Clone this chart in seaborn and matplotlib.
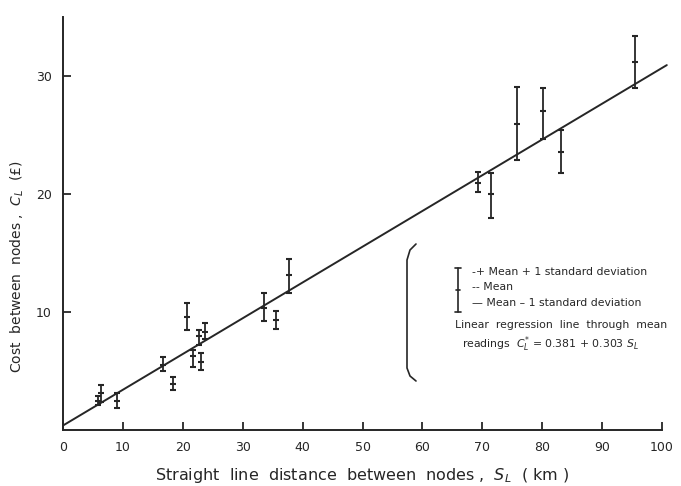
import numpy as np
import pandas as pd
import seaborn as sns
import matplotlib.pyplot as plt
from matplotlib.lines import Line2D

sns.set_style("ticks")
plt.rcParams['font.family'] = ['DejaVu Sans']

# readings
dist = [5.8, 6.3, 9.0, 16.7, 18.4, 20.7, 21.7, 22.7, 23.0, 23.7,
        33.5, 35.5, 37.8, 69.3, 71.5, 75.8, 80.2, 83.2, 95.5]
mean_cost = [2.5, 3.1, 2.5, 5.5, 3.9, 9.6, 6.3, 8.0, 5.8, 8.3,
             10.3, 9.3, 13.1, 20.9, 20.0, 25.9, 27.0, 23.6, 31.2]
upper = [2.9, 3.8, 3.1, 6.2, 4.5, 10.8, 6.8, 8.5, 6.5, 9.1,
         11.6, 10.1, 14.5, 21.9, 21.8, 29.1, 29.0, 25.4, 33.4]
lower = [2.1, 2.4, 1.9, 5.0, 3.4, 8.5, 5.3, 7.2, 5.1, 7.7,
         9.2, 8.6, 11.6, 20.2, 18.0, 22.9, 24.7, 21.8, 29.0]

intercept, slope = 0.381, 0.303
x_ticks = [0, 10, 20, 30, 40, 50, 60, 70, 80, 90, 100]
y_ticks = [10, 20, 30]

df = pd.DataFrame({"dist": dist, "mean": mean_cost, "upper": upper, "lower": lower})
ink = "#262626"

fig = plt.figure(figsize=(6.81, 4.86), dpi=100)
ax = fig.add_axes([63 / 681, 1 - 430 / 486, (662 - 63) / 681, (430 - 17) / 486])

# error bars (mean +/- 1 sd)
ax.errorbar(df["dist"], df["mean"],
            yerr=[df["mean"] - df["lower"], df["upper"] - df["mean"]],
            fmt="_", color=ink, ecolor=ink, elinewidth=1.3, capsize=2.5,
            capthick=1.3, markersize=5, mew=1.5)

# regression line through the means
reg = pd.DataFrame({"x": [0, 100.8]})
reg["y"] = intercept + slope * reg["x"]
sns.lineplot(data=reg, x="x", y="y", ax=ax, color=ink, lw=1.4)
ax.lines[-1].set_clip_on(False)

ax.set_xlim(0, 100)
ax.set_ylim(0, 35)
ax.set_xticks(x_ticks)
ax.set_yticks(y_ticks)
ax.tick_params(direction="in", length=6, width=1.3, colors=ink, labelsize=9, pad=8)
for s in ["top", "right"]:
    ax.spines[s].set_visible(False)
for s in ["left", "bottom"]:
    ax.spines[s].set_linewidth(1.4)
    ax.spines[s].set_color(ink)

ax.set_xlabel(r"Straight  line  distance  between  nodes ,  $S_L$  ( km )",
              fontsize=11.5, color=ink)
ax.xaxis.set_label_coords(0.5, -(466 - 430) / 413)
ax.set_ylabel(r"Cost  between  nodes ,  $C_L$  (£)", fontsize=10, color=ink)
ax.yaxis.set_label_coords(-(63 - 26) / 599, (430 - 267) / 413)


def fp(x, y):
    return x / 681, 1 - y / 486


# legend bracket
bx = [416, 410, 407, 407, 410, 416]
by = [244, 250, 260, 368, 376, 381]
fig.add_artist(Line2D([fp(a, b)[0] for a, b in zip(bx, by)],
                      [fp(a, b)[1] for a, b in zip(bx, by)],
                      color=ink, lw=1.2))

# legend error bar symbol
fig.add_artist(Line2D([fp(458, 268)[0]] * 2, [fp(458, 268)[1], fp(458, 312)[1]], color=ink, lw=1.2))
for yy, w in [(268, 3), (290, 2), (312, 3)]:
    fig.add_artist(Line2D([fp(458 - w, yy)[0], fp(458 + w, yy)[0]], [fp(0, yy)[1]] * 2,
                          color=ink, lw=1.2))

fs = 7.8
fig.text(*fp(472, 272), "-+ Mean + 1 standard deviation", fontsize=fs, color=ink, va="center")
fig.text(*fp(472, 287), "-- Mean", fontsize=fs, color=ink, va="center")
fig.text(*fp(472, 303), "— Mean – 1 standard deviation", fontsize=fs, color=ink, va="center")
fig.text(*fp(455, 325), "Linear  regression  line  through  mean", fontsize=fs, color=ink, va="center")
fig.text(*fp(462, 344), r"readings  $C^{*}_L$ = 0.381 + 0.303 $S_L$", fontsize=fs, color=ink, va="center")

fig.savefig("out.png", dpi=100)
